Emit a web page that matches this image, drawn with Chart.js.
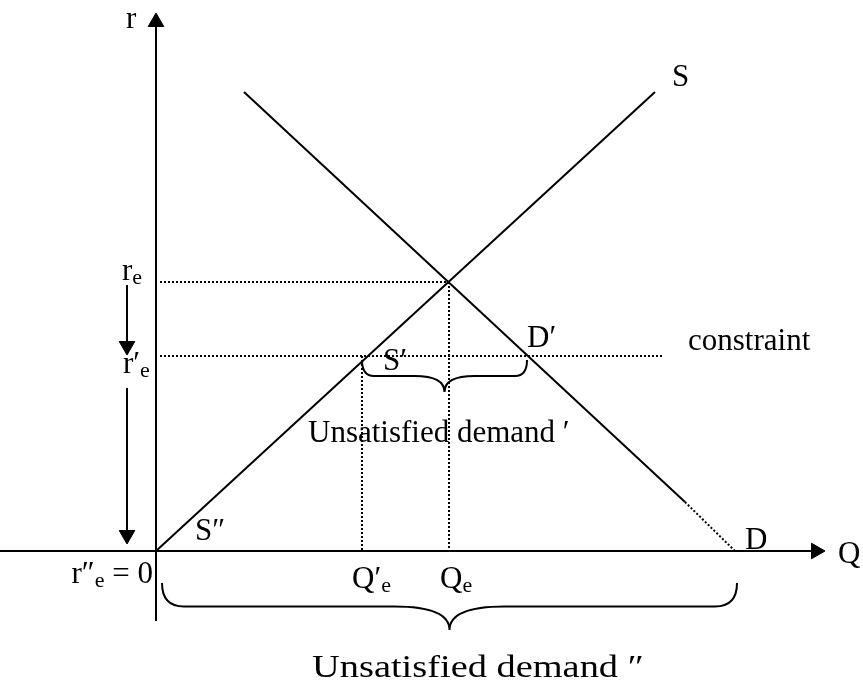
<!DOCTYPE html>
<html lang="en">
<head>
    <meta charset="UTF-8">
    <title>Credit rationing: supply and demand with an interest-rate constraint</title>
    <script src="https://cdn.jsdelivr.net/npm/chart.js"></script>
    <style>
        body {
            margin: 0;
            padding: 0;
            background-color: #ffffff;
        }
        #wrap {
            width: 863px;
            height: 682px;
        }
    </style>
</head>
<body>
    <div id="wrap">
        <canvas id="diagram" width="863" height="682"></canvas>
    </div>

    <script>
        // Values (Q along the bottom, r up the side, origin at 0)
        const supplyQ = [0, 499];
        const supplyR = [0, 459];
        const demandQ = [88, 529];
        const demandR = [459, 49];
        const demandTailQ = [529, 579];
        const demandTailR = [49, 0];

        const rE = 269;        // equilibrium rate
        const qE = 293;        // equilibrium quantity
        const rE1 = 195;       // constrained rate r'e
        const qE1 = 206;       // quantity supplied at r'e
        const constraintEnd = 506;

        // axis extents
        const qAxis = [-156, 660];
        const rAxis = [-70, 529];

        // arrows beside the r axis (shaft start, shaft end)
        const arrowQ = -29;
        const arrow1R = [266, 205];
        const arrow2R = [163, 16];

        // text labels: left x, baseline y (in chart units)
        const labels = [
            { main: 'r', x: -30, y: 523 },
            { main: 'r', sub: 'e', x: -34, y: 271 },
            { main: 'r\u2032', sub: 'e', x: -33, y: 178 },
            { main: 'r\u2033', sub: 'e', tail: ' = 0', x: -3, y: -32, align: 'right' },
            { main: 'S', x: 516, y: 465 },
            { main: 'S\u2032', x: 227, y: 181 },
            { main: 'S\u2033', x: 39, y: 11 },
            { main: 'D\u2032', x: 371, y: 204 },
            { main: 'D', x: 589, y: 2 },
            { main: 'Q', x: 682, y: -12 },
            { main: 'constraint', x: 532, y: 201 },
            { main: 'Q\u2032', sub: 'e', x: 196, y: -37 },
            { main: 'Q', sub: 'e', x: 284, y: -37 },
            { main: 'Unsatisfied demand \u2032', x: 152, y: 109 },
            { main: 'Unsatisfied demand \u2033', x: 156, y: -126, stretch: 1.2 }
        ];

        // braces: from q1 to q2, top at r, depth down to the tip
        const braces = [
            { q1: qE1, q2: 371, r: 191, depth: 32, endR: 12, tipR: 30 },
            { q1: 6, q2: 581, r: -32, depth: 47, endR: 22, tipR: 55 }
        ];

        const pts = (xs, ys) => xs.map((x, i) => ({ x: x, y: ys[i] }));

        const solid = (data) => ({
            data: data, showLine: true, borderColor: '#000', borderWidth: 2,
            pointRadius: 0, fill: false
        });
        const dotted = (data) => ({
            data: data, showLine: true, borderColor: '#000', borderWidth: 2,
            borderDash: [2, 2], pointRadius: 0, fill: false
        });

        const font = '"Liberation Serif", "Times New Roman", serif';

        // Draw the labels (with subscripts) and the curly braces
        const annotations = {
            id: 'annotations',
            afterDatasetsDraw(chart) {
                const ctx = chart.ctx;
                const xs = chart.scales.x;
                const ys = chart.scales.y;
                ctx.save();
                ctx.fillStyle = '#000';
                ctx.strokeStyle = '#000';
                ctx.textBaseline = 'alphabetic';
                ctx.textAlign = 'left';

                labels.forEach(l => {
                    const mainFont = (l.stretch ? '32px ' : '31px ') + font;
                    const subFont = '22px ' + font;
                    let px = xs.getPixelForValue(l.x);
                    const py = ys.getPixelForValue(l.y);
                    if (l.stretch) {
                        ctx.save();
                        ctx.font = mainFont;
                        ctx.translate(px, py);
                        ctx.scale(l.stretch, 1);
                        ctx.fillText(l.main, 0, 0);
                        ctx.restore();
                        return;
                    }
                    ctx.font = mainFont;
                    const wMain = ctx.measureText(l.main).width;
                    ctx.font = subFont;
                    const wSub = l.sub ? ctx.measureText(l.sub).width : 0;
                    ctx.font = mainFont;
                    const wTail = l.tail ? ctx.measureText(l.tail).width : 0;
                    if (l.align === 'right') px -= wMain + wSub + wTail;
                    ctx.font = mainFont;
                    ctx.fillText(l.main, px, py);
                    if (l.sub) {
                        ctx.font = subFont;
                        ctx.fillText(l.sub, px + wMain, py + 4);
                    }
                    if (l.tail) {
                        ctx.font = mainFont;
                        ctx.fillText(l.tail, px + wMain + wSub, py);
                    }
                });

                ctx.lineWidth = 2;
                braces.forEach(b => {
                    const x1 = xs.getPixelForValue(b.q1);
                    const x2 = xs.getPixelForValue(b.q2);
                    const y0 = ys.getPixelForValue(b.r);
                    const y2 = y0 + b.depth;
                    const ym = y0 + b.depth / 2;
                    const xm = (x1 + x2) / 2;
                    ctx.beginPath();
                    ctx.moveTo(x1, y0);
                    ctx.quadraticCurveTo(x1, ym, x1 + b.endR, ym);
                    ctx.lineTo(xm - b.tipR, ym);
                    ctx.quadraticCurveTo(xm, ym, xm, y2);
                    ctx.quadraticCurveTo(xm, ym, xm + b.tipR, ym);
                    ctx.lineTo(x2 - b.endR, ym);
                    ctx.quadraticCurveTo(x2, ym, x2, y0);
                    ctx.stroke();
                });
                ctx.restore();
            }
        };

        const ctx = document.getElementById('diagram').getContext('2d');
        new Chart(ctx, {
            type: 'scatter',
            data: {
                datasets: [
                    // axes
                    solid(pts([0, 0], rAxis)),
                    solid(pts(qAxis, [0, 0])),
                    // supply and demand
                    solid(pts(supplyQ, supplyR)),
                    solid(pts(demandQ, demandR)),
                    dotted(pts(demandTailQ, demandTailR)),
                    // guide lines
                    dotted(pts([4, qE], [rE, rE])),
                    dotted(pts([qE, qE], [rE, 0])),
                    dotted(pts([4, constraintEnd], [rE1, rE1])),
                    dotted(pts([qE1, qE1], [rE1, 0])),
                    // arrows beside the r axis
                    solid(pts([arrowQ, arrowQ], arrow1R)),
                    solid(pts([arrowQ, arrowQ], arrow2R)),
                    // arrow heads
                    {
                        data: [
                            { x: 0, y: rAxis[1] },
                            { x: qAxis[1], y: 0 },
                            { x: arrowQ, y: arrow1R[1] },
                            { x: arrowQ, y: arrow2R[1] }
                        ],
                        pointStyle: 'triangle',
                        pointRadius: 9,
                        rotation: [0, 90, 180, 180],
                        backgroundColor: '#000',
                        borderColor: '#000',
                        borderWidth: 1,
                        showLine: false
                    }
                ]
            },
            options: {
                responsive: false,
                animation: false,
                layout: { padding: 0, autoPadding: false },
                plugins: {
                    legend: { display: false },
                    tooltip: { enabled: false }
                },
                scales: {
                    x: { type: 'linear', display: false, min: -156, max: 707 },
                    y: { type: 'linear', display: false, min: -131, max: 551 }
                }
            },
            plugins: [annotations]
        });
    </script>
</body>
</html>
